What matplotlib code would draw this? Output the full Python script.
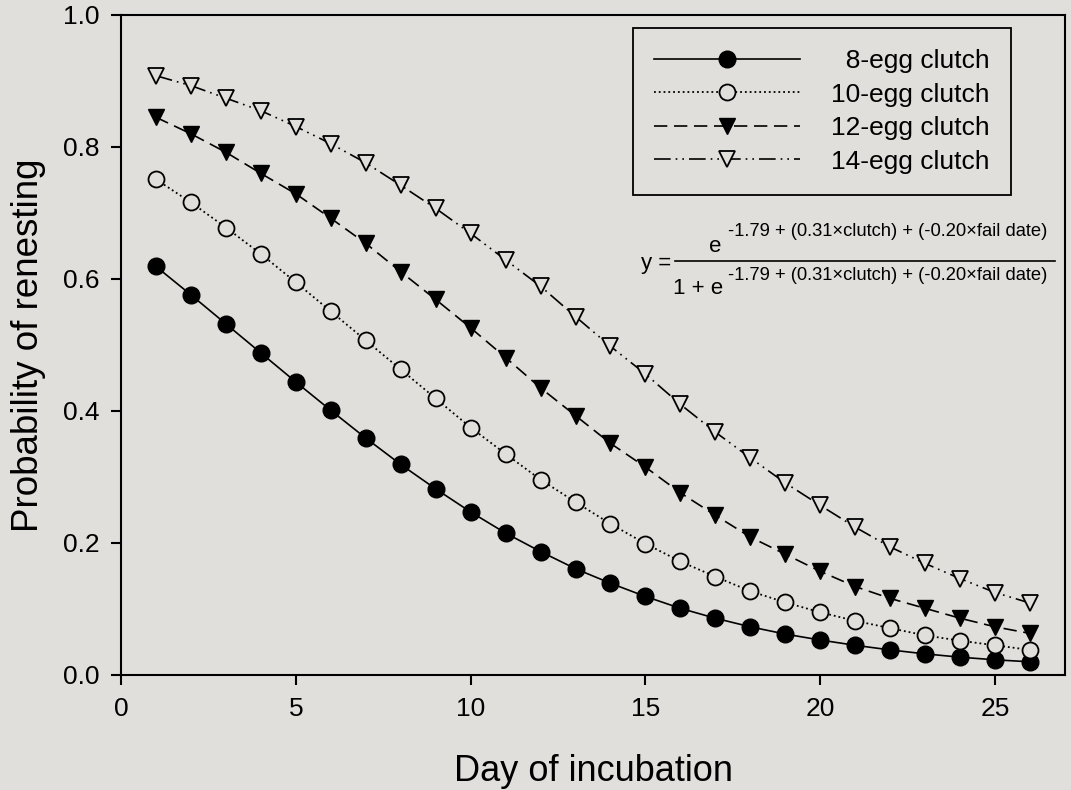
import matplotlib
matplotlib.use('Agg')
import matplotlib.pyplot as plt
from matplotlib.lines import Line2D

# Values
days = list(range(1, 27))
egg8 = [0.619, 0.576, 0.532, 0.488, 0.444, 0.401, 0.359, 0.319, 0.282, 0.247,
        0.215, 0.187, 0.161, 0.139, 0.119, 0.101, 0.086, 0.073, 0.062, 0.053,
        0.045, 0.038, 0.032, 0.027, 0.023, 0.020]
egg10 = [0.751, 0.716, 0.678, 0.638, 0.595, 0.551, 0.507, 0.463, 0.419, 0.375,
         0.335, 0.296, 0.262, 0.229, 0.199, 0.172, 0.149, 0.127, 0.110, 0.095,
         0.082, 0.071, 0.060, 0.052, 0.045, 0.038]
egg12 = [0.845, 0.820, 0.792, 0.760, 0.729, 0.692, 0.654, 0.611, 0.569, 0.526,
         0.481, 0.435, 0.393, 0.351, 0.315, 0.276, 0.242, 0.209, 0.183, 0.157,
         0.134, 0.116, 0.101, 0.086, 0.073, 0.063]
egg14 = [0.908, 0.893, 0.874, 0.855, 0.831, 0.805, 0.776, 0.742, 0.707, 0.669,
         0.629, 0.589, 0.543, 0.498, 0.456, 0.410, 0.368, 0.329, 0.291, 0.257,
         0.224, 0.194, 0.169, 0.146, 0.125, 0.109]
labels = ['  8-egg clutch', '10-egg clutch', '12-egg clutch', '14-egg clutch']

bg = '#e1dfdc'
plt.rcParams['font.family'] = ['Liberation Sans', 'DejaVu Sans']

W, H = 1071, 790
fig = plt.figure(figsize=(W / 100, H / 100), dpi=100, facecolor=bg)
ax = fig.add_axes([121 / W, 1 - 675 / H, (1065 - 121) / W, (675 - 15) / H])
ax.set_facecolor(bg)

ax.plot(days, egg8, '-', color='black', lw=1.2, marker='o', ms=12,
        mfc='black', mec='black', label=labels[0])
ax.plot(days, egg10, ':', color='black', lw=1.3, marker='o', ms=11.5,
        mfc=bg, mec='black', mew=1.3, label=labels[1])
ax.plot(days, egg12, color='black', lw=1.2, ls=(0, (8, 4)), marker='v', ms=11.5,
        mfc='black', mec='black', label=labels[2])
ax.plot(days, egg14, color='black', lw=1.2, ls=(0, (10, 3, 1, 3, 1, 3)),
        marker='v', ms=11.5, mfc=bg, mec='black', mew=1.3, label=labels[3])

ax.set_xlim(0, 27)
ax.set_ylim(0, 1.0)
ax.set_xticks([0, 5, 10, 15, 20, 25])
ax.set_yticks([0.0, 0.2, 0.4, 0.6, 0.8, 1.0])
ax.set_yticklabels(['0.0', '0.2', '0.4', '0.6', '0.8', '1.0'])
ax.tick_params(direction='out', length=7.5, width=1.5, labelsize=19, pad=8)
for s in ax.spines.values():
    s.set_linewidth(1.5)

ax.set_xlabel('Day of incubation', fontsize=26, labelpad=24)
ax.set_ylabel('Probability of renesting', fontsize=26.5, labelpad=12)

leg = ax.legend(loc='upper right', bbox_to_anchor=((1011 - 121) / 944, (675 - 28) / 660),
                borderaxespad=0, fontsize=19, handlelength=5.5, handletextpad=1.2,
                labelspacing=0.36, frameon=True, fancybox=False, edgecolor='black',
                facecolor=bg, framealpha=1, borderpad=0.8)
leg.get_frame().set_linewidth(1.3)


def fx(x):
    return x / W


def fy(y):
    return 1 - y / H


# Fitted model equation
expo = '-1.79 + (0.31\u00d7clutch) + (-0.20\u00d7fail date)'
fig.text(fx(656), fy(263), 'y =', fontsize=16, ha='center', va='center')
fig.text(fx(715), fy(246), 'e', fontsize=16, ha='center', va='center')
fig.text(fx(1047), fy(231), expo, fontsize=13.2, ha='right', va='center')
fig.add_artist(Line2D([fx(675), fx(1055)], [fy(261), fy(261)], color='black', lw=1.2))
fig.text(fx(698), fy(289), '1 + e', fontsize=16, ha='center', va='center')
fig.text(fx(1047), fy(276), expo, fontsize=13.2, ha='right', va='center')

fig.savefig('out.png', dpi=100, facecolor=bg)
